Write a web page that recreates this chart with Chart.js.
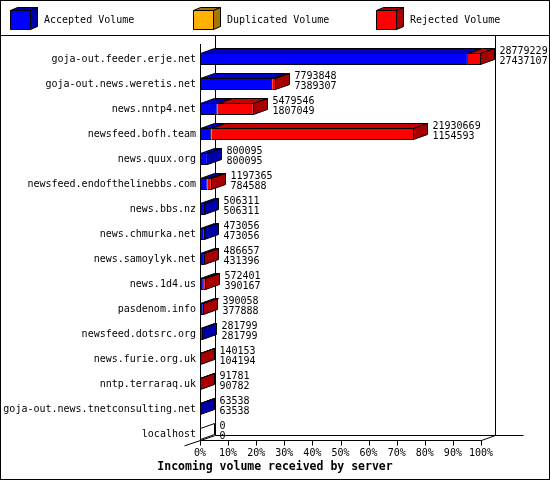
<!DOCTYPE html>
<html>
<head>
<meta charset="utf-8">
<title>Incoming volume received by server</title>
<script src="https://cdn.jsdelivr.net/npm/chart.js@4.4.1/dist/chart.umd.min.js"></script>
<style>
  html, body { margin: 0; padding: 0; background: #fff; }
  canvas { display: block; }
</style>
</head>
<body>
<canvas id="chart" width="550" height="480"></canvas>
<script>
// serveurs, du haut vers le bas
const hosts = [
  'goja-out.feeder.erje.net', 'goja-out.news.weretis.net', 'news.nntp4.net',
  'newsfeed.bofh.team', 'news.quux.org', 'newsfeed.endofthelinebbs.com',
  'news.bbs.nz', 'news.chmurka.net', 'news.samoylyk.net', 'news.1d4.us',
  'pasdenom.info', 'newsfeed.dotsrc.org', 'news.furie.org.uk',
  'nntp.terraraq.uk', 'goja-out.news.tnetconsulting.net', 'localhost'
];
// volume offert (ligne du haut) / accepté (ligne du bas)
const offered  = [28779229, 7793848, 5479546, 21930669, 800095, 1197365, 506311, 473056, 486657, 572401, 390058, 281799, 140153, 91781, 63538, 0];
const accepted = [27437107, 7389307, 1807049, 1154593, 800095, 784588, 506311, 473056, 431396, 390167, 377888, 281799, 104194, 90782, 63538, 0];
const duplicated = [0, 0, 0, 0, 0, 0, 0, 0, 0, 0, 0, 0, 0, 0, 0, 0];
const rejected = [1342122, 404541, 3672497, 20776076, 0, 412777, 0, 0, 55261, 182234, 12170, 0, 35959, 999, 0, 0];
const pctTicks = [0, 10, 20, 30, 40, 50, 60, 70, 80, 90, 100];

const FONT = '"DejaVu Sans Mono", "Liberation Mono", monospace';
const DX = 14, DY = 5;   // profondeur 3D
const BAR_H = 12;

const series = [
  { label: 'Accepted Volume',   data: accepted,   front: '#0000ff', top: '#0000c4', side: '#0000a8' },
  { label: 'Duplicated Volume', data: duplicated, front: '#ffb000', top: '#c48700', side: '#a87400' },
  { label: 'Rejected Volume',   data: rejected,   front: '#ff0000', top: '#c40000', side: '#a80000' }
];

// échelle en % du plus gros volume
const maxVol = Math.max(...offered);
const pct = v => (v ? v / maxVol * 100 : null);

function poly(ctx, pts, fill) {
  ctx.beginPath();
  ctx.moveTo(pts[0][0], pts[0][1]);
  for (let i = 1; i < pts.length; i++) ctx.lineTo(pts[i][0], pts[i][1]);
  ctx.closePath();
  if (fill) { ctx.fillStyle = fill; ctx.fill(); }
  ctx.stroke();
}
function seg(ctx, x0, y0, x1, y1) {
  ctx.beginPath(); ctx.moveTo(x0, y0); ctx.lineTo(x1, y1); ctx.stroke();
}

// murs + sol du graphique 3d
const wallsPlugin = {
  id: 'walls',
  beforeDatasetsDraw(chart) {
    const ctx = chart.ctx, xs = chart.scales.x, ys = chart.scales.y;
    const x0 = Math.round(xs.getPixelForValue(0)) + 0.5;
    const x1 = Math.round(xs.getPixelForValue(100)) + 0.5;
    const yF = Math.round(ys.getPixelForValue(hosts.length - 1)) + BAR_H / 2 + 0.5;
    const yB = yF - DY;
    ctx.save();
    ctx.strokeStyle = '#000';
    ctx.lineWidth = 1;
    seg(ctx, x0 + DX + 1, 36, x0 + DX + 1, yB);          // mur du fond gauche
    seg(ctx, x1 + DX, 36, x1 + DX, yB);                  // mur droit
    seg(ctx, x0 + DX + 1, yB, x1 + DX + 28, yB);         // sol arrière
    seg(ctx, x0, yF, x1, yF);                            // sol avant
    seg(ctx, x0 - 16, yF + 16 * DY / (DX + 1), x0 + DX + 1, yB);
    seg(ctx, x1, yF, x1 + DX, yB);
    pctTicks.forEach(t => {
      const x = Math.round(xs.getPixelForValue(t)) + 0.5;
      seg(ctx, x, yF, x, yF + 5);
    });
    ctx.restore();
  },
  afterDatasetsDraw(chart) {
    const ctx = chart.ctx, xs = chart.scales.x, ys = chart.scales.y;
    const b = Math.round(xs.getPixelForValue(0)) + 0.5;
    ctx.save();
    ctx.strokeStyle = '#000';
    ctx.lineWidth = 1;
    hosts.forEach((h, i) => {
      const c = Math.round(ys.getPixelForValue(i));
      const yt = c - BAR_H / 2 + 0.5, yb = c + BAR_H / 2 - 0.5;
      let xe = b, sideColor = '#ffffff';
      series.forEach((s, d) => {
        if (!s.data[i]) return;
        const el = chart.getDatasetMeta(d).data[i];
        const xa = Math.round(el.base) + 0.5;
        const xz = Math.round(el.x) - 0.5;
        poly(ctx, [[xa, yt], [xz, yt], [xz + DX, yt - DY], [xa + DX, yt - DY]], s.top);
        xe = xz;
        sideColor = s.side;
      });
      poly(ctx, [[xe, yt], [xe + DX, yt - DY], [xe + DX, yb - DY], [xe, yb]], sideColor);

      // valeurs : offert / accepté
      ctx.fillStyle = '#000';
      ctx.font = '10px ' + FONT;
      ctx.textAlign = 'left';
      ctx.textBaseline = 'middle';
      ctx.fillText(String(offered[i]), xe + DX + 5, c - 8);
      ctx.fillText(String(accepted[i]), xe + DX + 5, c + 2.5);
    });
    // axe avant gauche
    const yF = Math.round(ys.getPixelForValue(hosts.length - 1)) + BAR_H / 2 + 0.5;
    seg(ctx, b, 44, b, yF);
    ctx.restore();
  },
  afterDraw(chart) {
    const ctx = chart.ctx;
    ctx.save();
    ctx.strokeStyle = '#000';
    ctx.lineWidth = 1;
    ctx.strokeRect(0.5, 0.5, 549, 479);
    seg(ctx, 0, 35.5, 550, 35.5);

    // légende avec cubes
    series.forEach((s, i) => {
      const x = 10.5 + 183 * i, y = 10.5, w = 20, hgt = 19, dx = 7, dy = 3;
      poly(ctx, [[x, y], [x + w, y], [x + w + dx, y - dy], [x + dx, y - dy]], s.side);
      poly(ctx, [[x + w, y], [x + w + dx, y - dy], [x + w + dx, y + hgt - dy], [x + w, y + hgt]], s.side);
      poly(ctx, [[x, y], [x + w, y], [x + w, y + hgt], [x, y + hgt]], s.front);
      ctx.fillStyle = '#000';
      ctx.font = '10px ' + FONT;
      ctx.textAlign = 'left';
      ctx.textBaseline = 'middle';
      ctx.fillText(s.label, x + 33.5, 20.5);
    });

    // titre sous l'axe
    ctx.font = 'bold 11.5px ' + FONT;
    ctx.textAlign = 'center';
    ctx.textBaseline = 'middle';
    ctx.fillStyle = '#000';
    ctx.fillText('Incoming volume received by server', 275, 467);
    ctx.restore();
  }
};

new Chart(document.getElementById('chart').getContext('2d'), {
  type: 'bar',
  data: {
    labels: hosts,
    datasets: series.map(s => ({
      label: s.label,
      data: s.data.map(pct),
      backgroundColor: s.front,
      borderColor: '#000',
      borderWidth: 1,
      borderSkipped: 'start',
      inflateAmount: 0,
      barThickness: BAR_H
    }))
  },
  options: {
    indexAxis: 'y',
    responsive: false,
    animation: false,
    layout: { padding: { left: 0, right: 69, top: 46.5, bottom: 0 } },
    plugins: { legend: { display: false }, tooltip: { enabled: false } },
    scales: {
      x: {
        stacked: true, min: 0, max: 100,
        afterBuildTicks: s => { s.ticks = pctTicks.map(v => ({ value: v })); },
        afterFit: s => { s.height = 33.5; },
        grid: { display: false, drawTicks: false },
        border: { display: false },
        ticks: {
          padding: 1, color: '#000', maxRotation: 0, autoSkip: false,
          font: { family: FONT, size: 10 },
          callback: v => v + '%'
        }
      },
      y: {
        stacked: true,
        afterFit: s => { s.width = 200; },
        grid: { display: false, drawTicks: false },
        border: { display: false },
        ticks: { padding: 4, color: '#000', autoSkip: false, font: { family: FONT, size: 10 } }
      }
    }
  },
  plugins: [wallsPlugin]
});
</script>
</body>
</html>
